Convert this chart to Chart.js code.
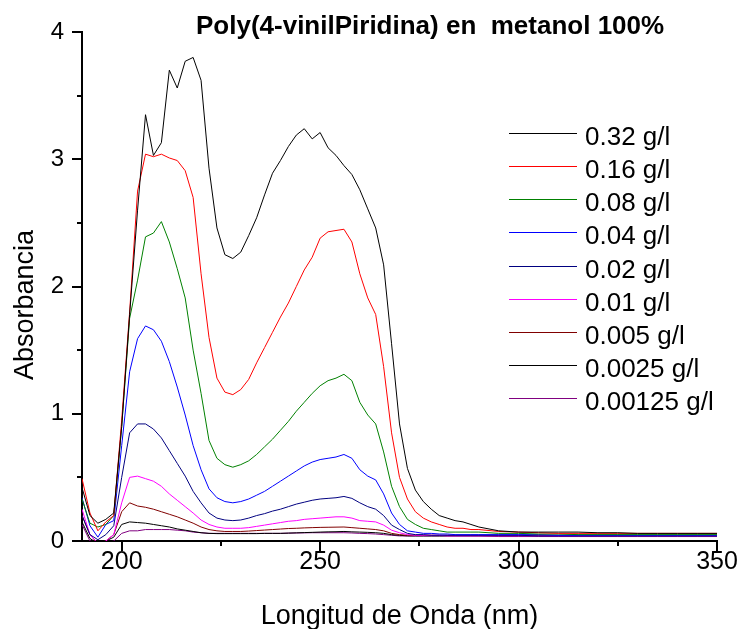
<!DOCTYPE html>
<html>
<head>
<meta charset="utf-8">
<script src="https://cdn.jsdelivr.net/npm/chart.js@4"></script>
<style>
  html, body { margin: 0; padding: 0; background: #fff; }
  canvas { display: block; }
</style>
</head>
<body>
<canvas id="chart" width="741" height="629"></canvas>
<script>
// Wavelength grid (nm): 2 nm steps to 290, 5 nm after
const wavelength = [
  190, 192, 194, 196, 198, 200, 202, 204, 206, 208,
  210, 212, 214, 216, 218, 220, 222, 224, 226, 228,
  230, 232, 234, 236, 238, 240, 242, 244, 246, 248,
  250, 252, 254, 256, 258, 260, 262, 264, 266, 268,
  270, 272, 274, 276, 278, 280, 282, 284, 286, 288, 290,
  295, 300, 305, 310, 315, 320, 325, 330, 335, 340, 345, 350
];

const labels = ['0.32 g/l', '0.16 g/l', '0.08 g/l', '0.04 g/l', '0.02 g/l',
  '0.01 g/l', '0.005 g/l', '0.0025 g/l', '0.00125 g/l'];
const colors = ['#000000', '#FF0000', '#008000', '#0000FF', '#000080',
  '#FF00FF', '#800000', '#000000', '#800080'];

const abs032 = [
  0.42, 0.20, 0.14, 0.17, 0.22, 0.90, 1.78, 2.60, 3.35, 3.03,
  3.13, 3.70, 3.56, 3.77, 3.80, 3.62, 2.93, 2.46, 2.25, 2.22,
  2.27, 2.40, 2.54, 2.72, 2.89, 2.99, 3.10, 3.19, 3.24, 3.16,
  3.21, 3.09, 3.03, 2.95, 2.88, 2.76, 2.61, 2.46, 2.17, 1.55,
  0.92, 0.57, 0.40, 0.31, 0.25, 0.20, 0.18, 0.16, 0.15, 0.13, 0.11,
  0.08, 0.07, 0.07, 0.07, 0.07, 0.065, 0.065, 0.06, 0.06, 0.06, 0.06, 0.06
];
const abs016 = [
  0.49, 0.22, 0.08, 0.15, 0.20, 0.95, 1.80, 2.75, 3.04, 3.02,
  3.04, 3.01, 2.99, 2.91, 2.70, 2.10, 1.60, 1.28, 1.17, 1.15,
  1.19, 1.27, 1.40, 1.52, 1.64, 1.76, 1.87, 2.00, 2.13, 2.23,
  2.38, 2.43, 2.44, 2.45, 2.35, 2.10, 1.91, 1.78, 1.37, 0.85,
  0.50, 0.33, 0.23, 0.18, 0.15, 0.13, 0.11, 0.10, 0.10, 0.09, 0.09,
  0.075, 0.07, 0.065, 0.06, 0.06, 0.06, 0.06, 0.06, 0.06, 0.06, 0.06, 0.06
];
const abs008 = [
  0.33, 0.14, 0.11, 0.13, 0.20, 0.90, 1.75, 2.05, 2.39, 2.42,
  2.51, 2.35, 2.14, 1.91, 1.50, 1.16, 0.79, 0.65, 0.60, 0.58,
  0.60, 0.63, 0.68, 0.74, 0.80, 0.87, 0.94, 1.02, 1.09, 1.16,
  1.22, 1.26, 1.28, 1.31, 1.26, 1.09, 0.99, 0.92, 0.70, 0.43,
  0.27, 0.17, 0.13, 0.10, 0.09, 0.08, 0.07, 0.07, 0.07, 0.07, 0.07,
  0.06, 0.06, 0.055, 0.055, 0.05, 0.05, 0.05, 0.05, 0.05, 0.05, 0.05, 0.05
];
const abs004 = [
  0.34, 0.12, 0.03, 0.13, 0.16, 0.75, 1.33, 1.59, 1.69, 1.66,
  1.57, 1.41, 1.21, 0.99, 0.75, 0.56, 0.41, 0.34, 0.31, 0.30,
  0.31, 0.33, 0.36, 0.39, 0.43, 0.47, 0.51, 0.55, 0.59, 0.62,
  0.64, 0.65, 0.66, 0.68, 0.65, 0.56, 0.51, 0.48, 0.37, 0.22,
  0.13, 0.08, 0.07, 0.06, 0.06, 0.055, 0.055, 0.05, 0.05, 0.05, 0.05,
  0.05, 0.05, 0.05, 0.045, 0.045, 0.045, 0.045, 0.045, 0.045, 0.045, 0.045, 0.045
];
const abs002 = [
  0.20, 0.05, 0.01, 0.05, 0.12, 0.50, 0.85, 0.92, 0.92, 0.88,
  0.81, 0.71, 0.61, 0.51, 0.39, 0.30, 0.22, 0.18, 0.165, 0.16,
  0.165, 0.18, 0.20, 0.215, 0.235, 0.25, 0.27, 0.29, 0.305, 0.32,
  0.33, 0.335, 0.34, 0.35, 0.335, 0.30, 0.27, 0.25, 0.20, 0.125,
  0.09, 0.06, 0.05, 0.05, 0.045, 0.045, 0.045, 0.045, 0.045, 0.045, 0.045,
  0.045, 0.045, 0.04, 0.04, 0.04, 0.04, 0.04, 0.04, 0.04, 0.04, 0.04, 0.04
];
const abs001 = [
  0.25, 0.05, -0.02, 0.00, 0.05, 0.30, 0.50, 0.51, 0.49, 0.47,
  0.43, 0.37, 0.32, 0.27, 0.22, 0.165, 0.13, 0.11, 0.10, 0.10,
  0.10, 0.105, 0.115, 0.125, 0.135, 0.145, 0.155, 0.16, 0.17, 0.175,
  0.18, 0.185, 0.19, 0.19, 0.18, 0.16, 0.155, 0.15, 0.125, 0.085,
  0.065, 0.05, 0.045, 0.045, 0.045, 0.045, 0.04, 0.04, 0.04, 0.04, 0.04,
  0.04, 0.04, 0.04, 0.04, 0.04, 0.04, 0.04, 0.04, 0.04, 0.04, 0.04, 0.04
];
const abs0005 = [
  0.20, 0.05, -0.02, 0.00, 0.05, 0.23, 0.30, 0.275, 0.265, 0.25,
  0.23, 0.21, 0.19, 0.165, 0.14, 0.11, 0.09, 0.08, 0.075, 0.075,
  0.075, 0.078, 0.082, 0.086, 0.09, 0.094, 0.098, 0.10, 0.103, 0.105,
  0.107, 0.108, 0.109, 0.11, 0.105, 0.10, 0.095, 0.09, 0.08, 0.06,
  0.05, 0.045, 0.045, 0.045, 0.045, 0.045, 0.045, 0.045, 0.045, 0.045, 0.045,
  0.045, 0.045, 0.045, 0.045, 0.045, 0.045, 0.045, 0.045, 0.045, 0.045, 0.045, 0.045
];
const abs00025 = [
  0.15, 0.02, -0.02, 0.00, 0.03, 0.13, 0.15, 0.145, 0.14, 0.13,
  0.12, 0.11, 0.095, 0.085, 0.075, 0.065, 0.06, 0.058, 0.058, 0.058,
  0.058, 0.058, 0.058, 0.06, 0.06, 0.06, 0.062, 0.064, 0.066, 0.068,
  0.07, 0.072, 0.073, 0.075, 0.072, 0.07, 0.068, 0.065, 0.06, 0.05,
  0.045, 0.04, 0.04, 0.04, 0.04, 0.04, 0.04, 0.04, 0.04, 0.04, 0.04,
  0.04, 0.04, 0.04, 0.04, 0.04, 0.04, 0.04, 0.04, 0.04, 0.04, 0.04, 0.04
];
const abs000125 = [
  0.13, 0.00, -0.02, -0.02, 0.00, 0.06, 0.08, 0.08, 0.09, 0.09,
  0.09, 0.09, 0.085, 0.08, 0.07, 0.065, 0.06, 0.06, 0.06, 0.06,
  0.06, 0.06, 0.06, 0.06, 0.06, 0.06, 0.062, 0.063, 0.064, 0.065,
  0.065, 0.065, 0.065, 0.065, 0.063, 0.06, 0.058, 0.055, 0.05, 0.045,
  0.04, 0.04, 0.04, 0.04, 0.04, 0.04, 0.04, 0.04, 0.04, 0.04, 0.04,
  0.035, 0.035, 0.035, 0.035, 0.035, 0.035, 0.035, 0.035, 0.035, 0.035, 0.035, 0.035
];

const series = [abs032, abs016, abs008, abs004, abs002, abs001, abs0005, abs00025, abs000125];

const xMajor = [200, 250, 300, 350];
const xMinor = [225, 275, 325];
const yMajor = [0, 1, 2, 3, 4];
const yMinor = [0.5, 1.5, 2.5, 3.5];

const chartTitle = 'Poly(4-vinilPiridina) en  metanol 100%';
const xTitle = 'Longitud de Onda (nm)';
const yTitle = 'Absorbancia';

const FONT = '"Liberation Sans", Arial, sans-serif';

// ticks, titles and legend drawn on top of the plot
const decor = {
  id: 'decor',
  afterDraw(chart) {
    const { ctx, chartArea: a, scales: { x, y } } = chart;
    ctx.save();
    ctx.strokeStyle = '#000';
    ctx.lineWidth = 2;
    ctx.beginPath();
    xMajor.forEach(v => { const p = Math.round(x.getPixelForValue(v)); ctx.moveTo(p, a.bottom); ctx.lineTo(p, a.bottom + 10); });
    xMinor.forEach(v => { const p = Math.round(x.getPixelForValue(v)); ctx.moveTo(p, a.bottom); ctx.lineTo(p, a.bottom + 5); });
    yMajor.forEach(v => { const p = Math.round(y.getPixelForValue(v)); ctx.moveTo(a.left, p); ctx.lineTo(a.left - 10, p); });
    yMinor.forEach(v => { const p = Math.round(y.getPixelForValue(v)); ctx.moveTo(a.left, p); ctx.lineTo(a.left - 5, p); });
    ctx.stroke();

    ctx.fillStyle = '#000';
    ctx.font = 'bold 26px ' + FONT;
    ctx.textAlign = 'left';
    ctx.textBaseline = 'alphabetic';
    ctx.fillText(chartTitle, 196, 34);

    // axis titles
    ctx.font = '27px ' + FONT;
    ctx.textAlign = 'center';
    ctx.fillText(xTitle, (a.left + a.right) / 2, 624);
    ctx.save();
    ctx.translate(33, 305);
    ctx.rotate(-Math.PI / 2);
    ctx.fillText(yTitle, 0, 0);
    ctx.restore();

    ctx.font = '26px ' + FONT;
    ctx.textAlign = 'left';
    chart.data.datasets.forEach((ds, i) => {
      const ly = 133 + i * 33.15;
      ctx.strokeStyle = ds.borderColor;
      ctx.lineWidth = 1;
      ctx.beginPath();
      ctx.moveTo(509, Math.round(ly) + 0.5);
      ctx.lineTo(577, Math.round(ly) + 0.5);
      ctx.stroke();
      ctx.fillText(ds.label, 585, ly + 12);
    });
    ctx.restore();
  }
};

new Chart(document.getElementById('chart').getContext('2d'), {
  type: 'line',
  data: {
    datasets: series.map((s, i) => ({
      label: labels[i],
      data: s.map((v, j) => ({ x: wavelength[j], y: v })),
      borderColor: colors[i],
      borderWidth: 1,
      pointRadius: 0,
      tension: 0,
      fill: false
    }))
  },
  options: {
    responsive: false,
    animation: false,
    devicePixelRatio: 1,
    layout: { padding: { left: 0, right: 24, top: 32, bottom: 0 } },
    plugins: {
      legend: { display: false },
      title: { display: false },
      tooltip: { enabled: false }
    },
    scales: {
      x: {
        type: 'linear',
        min: 190,
        max: 350,
        afterBuildTicks: s => { s.ticks = xMajor.map(v => ({ value: v })); },
        afterFit: s => { s.height = 88; s.paddingLeft = 0; s.paddingRight = 0; },
        grid: { drawOnChartArea: false, drawTicks: false },
        border: { color: '#000', width: 2 },
        ticks: { color: '#000', padding: 6, maxRotation: 0, font: { size: 25, family: FONT } }
      },
      y: {
        min: 0,
        max: 4,
        afterBuildTicks: s => { s.ticks = yMajor.map(v => ({ value: v })); },
        afterFit: s => { s.width = 82; s.paddingTop = 0; s.paddingBottom = 0; },
        grid: { drawOnChartArea: false, drawTicks: false },
        border: { color: '#000', width: 2 },
        ticks: { color: '#000', padding: 18, font: { size: 24, family: FONT } }
      }
    }
  },
  plugins: [decor]
});
</script>
</body>
</html>
